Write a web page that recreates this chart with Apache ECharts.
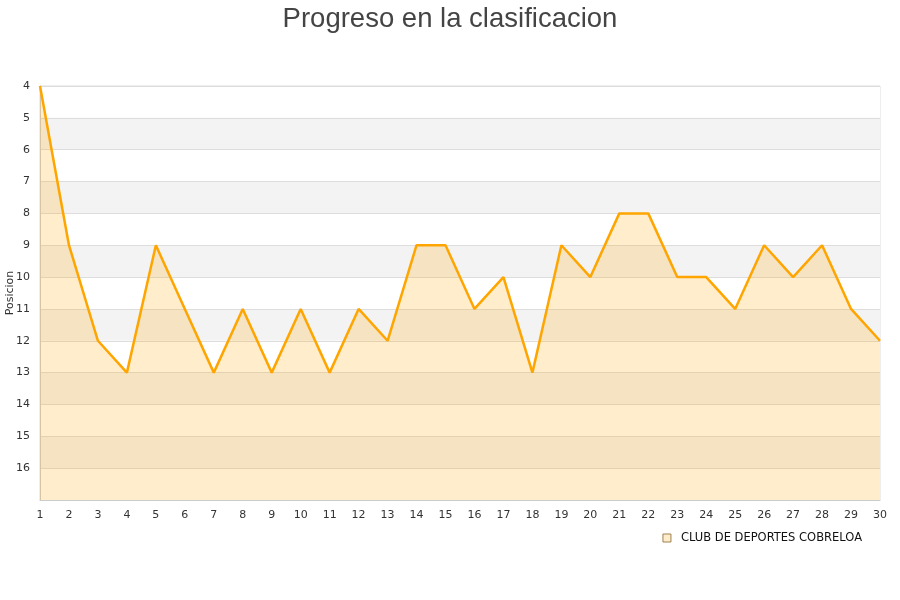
<!DOCTYPE html>
<html>
<head>
<meta charset="utf-8">
<script src="https://cdn.jsdelivr.net/npm/echarts@6/dist/echarts.min.js"></script>
<style>
html,body{margin:0;padding:0;background:#fff;}
#chart{width:900px;height:600px;}
</style>
</head>
<body>
<div id="chart"></div>
<script>
var titleText = "Progreso en la clasificacion";
var seriesName = "CLUB DE DEPORTES COBRELOA";
var jornadas = ["1","2","3","4","5","6","7","8","9","10","11","12","13","14","15","16","17","18","19","20","21","22","23","24","25","26","27","28","29","30"];
var posiciones = [4,9,12,13,9,11,13,11,13,11,13,11,12,9,9,11,10,13,9,10,8,8,10,10,11,9,10,9,11,12];
var yMin = 4, yMax = 17;

var chart = echarts.init(document.getElementById('chart'));
chart.setOption({
  animation: false,
  backgroundColor: '#fff',
  title: {
    text: titleText,
    left: 'center',
    top: 0,
    textStyle: {fontFamily: 'Liberation Sans', fontSize: 27.5, fontWeight: 'normal', color: '#444'}
  },
  legend: {
    right: 33,
    top: 527,
    icon: 'rect',
    itemWidth: 8,
    itemHeight: 8,
    itemGap: 10,
    textStyle: {fontFamily: 'DejaVu Sans', fontSize: 11.5, color: '#111', padding: [0, 0, 0, 5]},
    data: [{name: seriesName, itemStyle: {color: '#ffeccb', borderColor: '#a08050', borderWidth: 1}}]
  },
  grid: {
    left: 40, right: 20, top: 86, bottom: 100,
    containLabel: false,
    outerBoundsMode: 'none',
    show: true, borderColor: '#ddd', borderWidth: 1
  },
  xAxis: {
    type: 'category',
    boundaryGap: false,
    data: jornadas,
    axisLine: {show: true, lineStyle: {color: '#ccc'}},
    axisTick: {show: false},
    axisLabel: {fontFamily: 'DejaVu Sans', fontSize: 11, color: '#333', margin: 10, interval: 0},
    splitLine: {show: false}
  },
  yAxis: {
    type: 'value',
    inverse: true,
    min: yMin, max: yMax, interval: 1,
    name: 'Posicion',
    nameLocation: 'middle',
    nameGap: 24,
    nameMoveOverlap: false,
    nameTextStyle: {fontFamily: 'DejaVu Sans', fontSize: 11, color: '#333'},
    axisLine: {show: true, lineStyle: {color: '#ccc'}},
    axisTick: {show: false},
    axisLabel: {
      fontFamily: 'DejaVu Sans', fontSize: 11, color: '#333', margin: 10,
      formatter: function (v) { return v === yMax ? '' : String(v); }
    },
    splitLine: {show: true, lineStyle: {color: '#ddd'}},
    splitArea: {show: true, areaStyle: {color: ['#ffffff', '#f3f3f3']}}
  },
  series: [{
    name: seriesName,
    type: 'line',
    data: posiciones,
    symbol: 'none',
    lineStyle: {color: '#ffa500', width: 2.5},
    itemStyle: {color: '#ffa500'},
    areaStyle: {color: 'rgba(255,165,0,0.2)', opacity: 1, origin: 'end'}
  }]
});
</script>
</body>
</html>
